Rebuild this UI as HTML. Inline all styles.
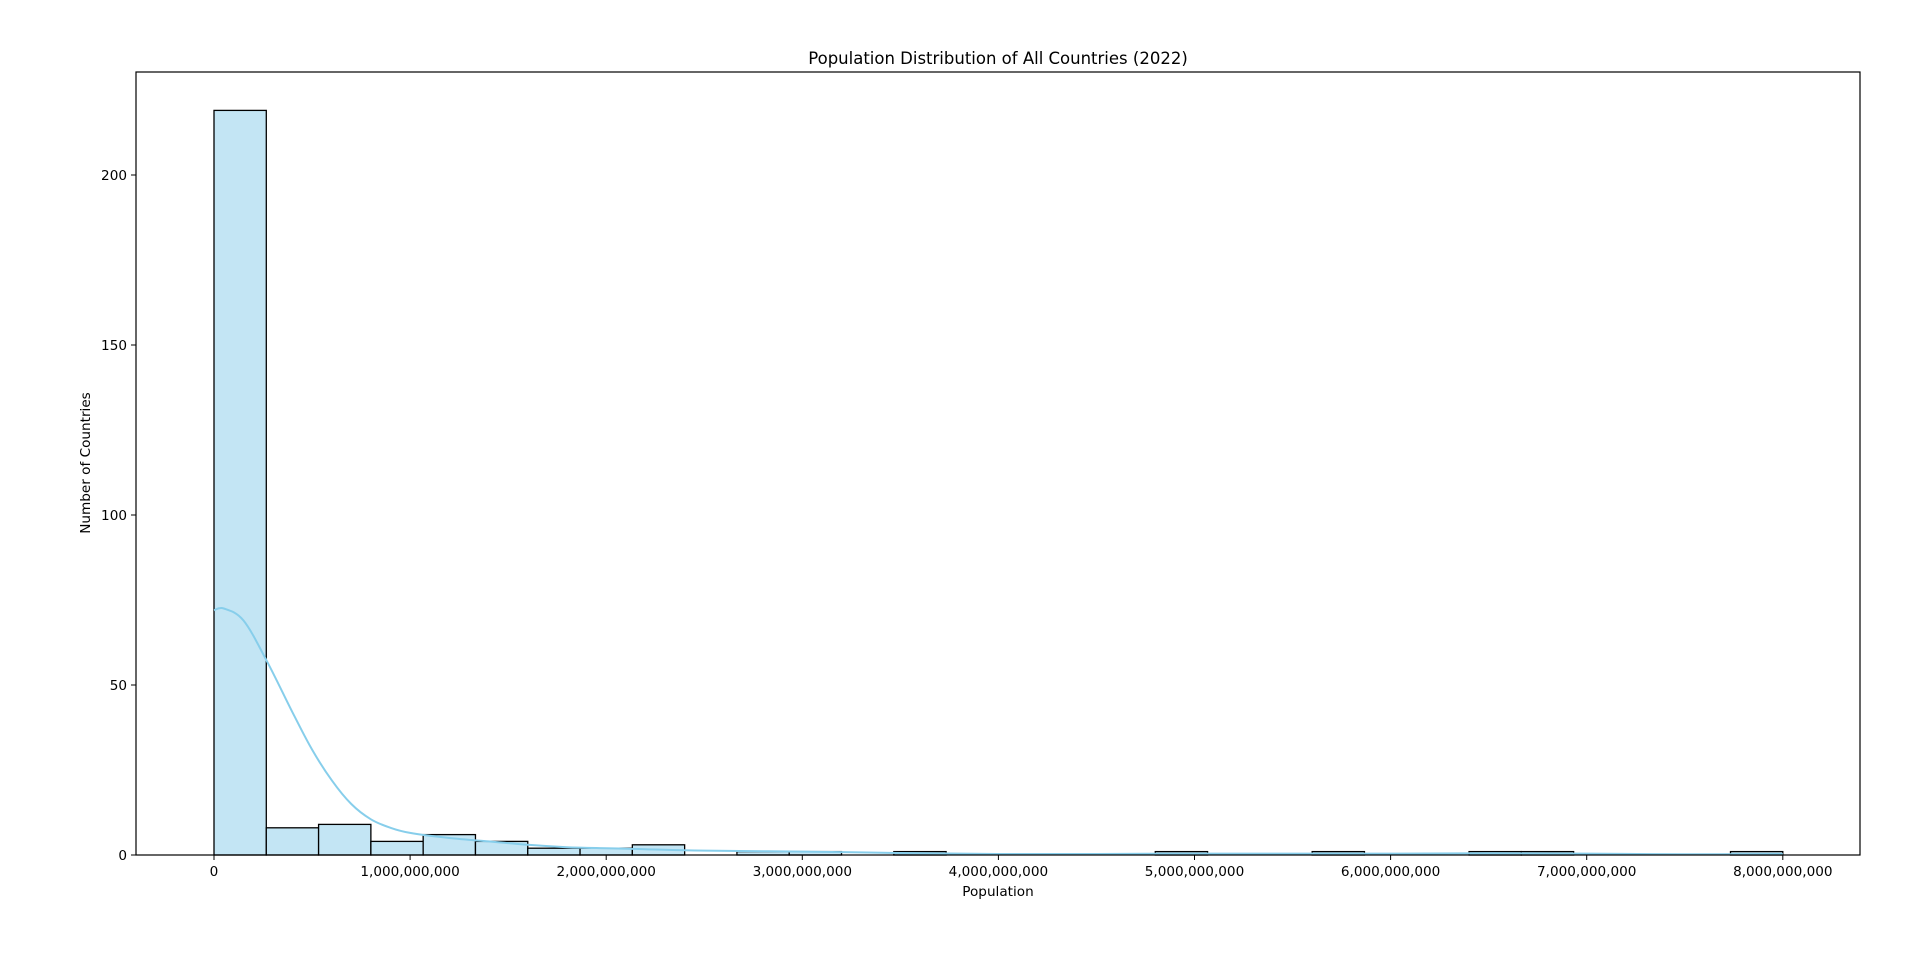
<!DOCTYPE html>
<html><head><meta charset="utf-8"><style>
html,body{margin:0;padding:0;background:#fff;}
svg{display:block;font-family:"DejaVu Sans","Liberation Sans",sans-serif;}
</style></head><body>
<svg id="chart" width="1920" height="967">
<text x="998" y="64" font-size="16.5" text-anchor="middle">Population Distribution of All Countries (2022)</text>
<g id="bars"></g>
<path id="kde" fill="none" stroke="#87ceeb" stroke-width="2"></path>
<rect x="136" y="72" width="1724" height="783" fill="none" stroke="#000" stroke-width="1.2"/>
<g id="xticks"></g>
<g id="yticks"></g>
<text x="998" y="896" font-size="13.6" text-anchor="middle">Population</text>
<text x="0" y="0" font-size="13.6" text-anchor="middle" transform="translate(90,463) rotate(-90)">Number of Countries</text>
</svg>
<script>
const binCounts=[219,8,9,4,6,4,2,2,3,0,1,1,0,1,0,0,0,0,1,0,0,1,0,0,1,1,0,0,0,1];
const binMax=8.0e9;
const kdeX=[0,0.05,0.15,0.27,0.4,0.5,0.6,0.7,0.8,0.9,1.0,1.2,1.4,1.6,1.8,2.0,2.2,2.5,3.0,3.5,4.0,4.5,5.0,5.5,6.0,6.5,7.0,7.5,8.0];
const kdeY=[72,72.5,69,57,42,31,22,15,10.5,8,6.5,5,4,3,2.3,2,1.7,1.3,1,0.6,0.3,0.3,0.4,0.4,0.4,0.5,0.4,0.2,0.3];
const xTickVals=[0,1e9,2e9,3e9,4e9,5e9,6e9,7e9,8e9];
const xTickLabels=["0","1,000,000,000","2,000,000,000","3,000,000,000","4,000,000,000","5,000,000,000","6,000,000,000","7,000,000,000","8,000,000,000"];
const yTickVals=[0,50,100,150,200];
const yTickLabels=["0","50","100","150","200"];
const NS="http://www.w3.org/2000/svg";
const sx=v=>214+v/1e9*196.1;
const sy=v=>855-v*3.4;
const bars=document.getElementById('bars');
const w=binMax/binCounts.length;
binCounts.forEach((c,i)=>{
  if(c<=0)return;
  const r=document.createElementNS(NS,'rect');
  r.setAttribute('x',sx(i*w));r.setAttribute('y',sy(c));
  r.setAttribute('width',sx((i+1)*w)-sx(i*w));r.setAttribute('height',sy(0)-sy(c));
  r.setAttribute('fill','#c3e5f4');r.setAttribute('stroke','#000');r.setAttribute('stroke-width','1.3');
  
  
  bars.appendChild(r);
});
const pts=kdeX.map((x,i)=>[sx(x*1e9),sy(kdeY[i])]);
let d='M'+pts[0][0].toFixed(1)+','+pts[0][1].toFixed(1);
for(let i=0;i<pts.length-1;i++){
  const p0=pts[Math.max(0,i-1)],p1=pts[i],p2=pts[i+1],p3=pts[Math.min(pts.length-1,i+2)];
  const c1=[p1[0]+(p2[0]-p0[0])/6,p1[1]+(p2[1]-p0[1])/6];
  const c2=[p2[0]-(p3[0]-p1[0])/6,p2[1]-(p3[1]-p1[1])/6];
  d+='C'+c1[0].toFixed(1)+','+c1[1].toFixed(1)+' '+c2[0].toFixed(1)+','+c2[1].toFixed(1)+' '+p2[0].toFixed(1)+','+p2[1].toFixed(1);
}
document.getElementById('kde').setAttribute('d',d);
const xg=document.getElementById('xticks');
xTickVals.forEach((v,i)=>{
  const l=document.createElementNS(NS,'line');
  l.setAttribute('x1',sx(v));l.setAttribute('x2',sx(v));l.setAttribute('y1',855);l.setAttribute('y2',860);l.setAttribute('stroke','#000');
  
  
  xg.appendChild(l);
  const t=document.createElementNS(NS,'text');
  t.setAttribute('x',sx(v));t.setAttribute('y',876);t.setAttribute('font-size','13.6');t.setAttribute('text-anchor','middle');
  t.textContent=xTickLabels[i];
  
  
  xg.appendChild(t);
});
const yg=document.getElementById('yticks');
yTickVals.forEach((v,i)=>{
  const l=document.createElementNS(NS,'line');
  l.setAttribute('x1',131);l.setAttribute('x2',136);l.setAttribute('y1',sy(v));l.setAttribute('y2',sy(v));l.setAttribute('stroke','#000');
  
  
  yg.appendChild(l);
  const t=document.createElementNS(NS,'text');
  t.setAttribute('x',127);t.setAttribute('y',sy(v)+5);t.setAttribute('font-size','13.6');t.setAttribute('text-anchor','end');
  t.textContent=yTickLabels[i];
  
  
  yg.appendChild(t);
});
</script>
</body></html>
